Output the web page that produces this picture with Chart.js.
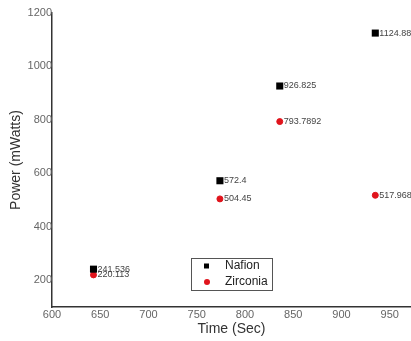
<!DOCTYPE html>
<html>
<head>
<meta charset="utf-8">
<script src="https://cdn.jsdelivr.net/npm/chart.js@4/dist/chart.umd.min.js"></script>
<style>
html, body { margin: 0; padding: 0; overflow: hidden; background: #fff; }
#wrap { width: 416px; height: 341px; }
</style>
</head>
<body>
<div id="wrap"><canvas id="myChart" width="416" height="341"></canvas></div>
<script>
// values
var timeSec = [643, 774, 836, 935];
var nafion = [241.536, 572.4, 926.825, 1124.88];
var zirconia = [220.113, 504.45, 793.7892, 517.968];
var xTicks = [600, 650, 700, 750, 800, 850, 900, 950];
var yTicks = [200, 400, 600, 800, 1000, 1200];

var toPts = (ys)=> ys.map( (y,i)=>({ x: timeSec[i], y: y }) );

// little value labels beside each point
var valueLabels = {
	id: "valueLabels",
	afterDatasetsDraw( chart ){
		var ctx = chart.ctx;
		ctx.save();
		ctx.font = "9px 'Liberation Sans', Arial, sans-serif";
		ctx.fillStyle = "#444";
		ctx.textBaseline = "middle";
		ctx.textAlign = "left";
		chart.data.datasets.forEach( (ds,d)=>{
			chart.getDatasetMeta(d).data.forEach( (el,i)=>{
				ctx.fillText( String(ds.data[i].y), el.x + 4, el.y );
			});
		});
		ctx.restore();
	}
};

// boxed legend sitting inside the plot
var boxLegend = {
	id: "boxLegend",
	afterDraw( chart ){
		var ctx = chart.ctx;
		var x0 = 191, y0 = 258, w = 81, h = 32;
		ctx.save();
		ctx.strokeStyle = "#555";
		ctx.lineWidth = 1;
		ctx.strokeRect( x0 + 0.5, y0 + 0.5, w, h );
		ctx.font = "12px 'Liberation Sans', Arial, sans-serif";
		ctx.textBaseline = "middle";
		chart.data.datasets.forEach( (ds,i)=>{
			var cy = y0 + 8 + i*16;
			ctx.fillStyle = ds.backgroundColor;
			if( ds.pointStyle == "rect" ) ctx.fillRect( x0 + 13, cy - 2.5, 5, 5 );
			else { ctx.beginPath(); ctx.arc( x0 + 16, cy, 3, 0, Math.PI*2 ); ctx.fill(); }
			ctx.fillStyle = "#222";
			ctx.fillText( ds.label, x0 + 34, cy );
		});
		ctx.restore();
	}
};

var tickFont = { family: "'Liberation Sans', Arial, sans-serif", size: 11 };
var titleFont = { family: "'Liberation Sans', Arial, sans-serif", size: 14 };
var plain = v=> String(v);

new Chart("myChart", {
	type: "scatter",
	data: {
		datasets: [
		{
			label: "Nafion",
			data: toPts( nafion ),
			pointStyle: "rect",
			pointRadius: 5,
			borderWidth: 0,
			backgroundColor: "#000",
			borderColor: "#000"
		},
		{
			label: "Zirconia",
			data: toPts( zirconia ),
			pointStyle: "circle",
			pointRadius: 3,
			borderWidth: 1,
			backgroundColor: "#e0141c",
			borderColor: "#e0141c"
		}
	]},
	options: {
		responsive: false,
		animation: false,
		layout: { padding: { top: 13, right: 2, left: 0, bottom: 0 } },
		plugins: { legend: { display: false }, tooltip: { enabled: false } },
		scales: {
			x: {
				type: "linear",
				min: 600, max: 972,
				afterBuildTicks: s=>{ s.ticks = xTicks.map( v=>({ value: v }) ); },
				afterFit: s=>{ s.height = 34; },
				grid: { display: false, drawTicks: false, tickLength: 0 },
				border: { display: true, color: "#333", width: 1.5 },
				ticks: { font: tickFont, color: "#666", padding: 1, maxRotation: 0, callback: plain },
				title: { display: true, text: "Time (Sec)", font: titleFont, color: "#333", padding: { top: 0, bottom: 3 } }
			},
			y: {
				min: 100, max: 1200,
				afterBuildTicks: s=>{ s.ticks = yTicks.map( v=>({ value: v }) ); },
				afterFit: s=>{ s.width = 52; },
				grid: { display: false, drawTicks: false, tickLength: 0 },
				border: { display: true, color: "#333", width: 1.5 },
				ticks: { font: tickFont, color: "#666", padding: 0, callback: plain },
				title: { display: true, text: "Power (mWatts)", font: titleFont, color: "#333", padding: { top: 8, bottom: 0 } }
			}
		}
	},
	plugins: [ valueLabels, boxLegend ]
});
</script>
</body>
</html>
